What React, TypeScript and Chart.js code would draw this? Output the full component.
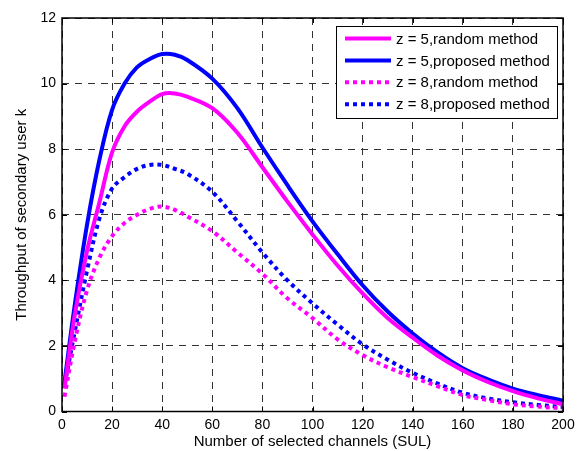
import React, { useEffect, useRef } from "react";
import { Chart, registerables } from "chart.js";

Chart.register(...registerables);

const channels = [1, 5, 10, 15, 20, 25, 30, 35, 40, 45, 50, 60, 70, 80, 90, 100, 110, 120, 130, 140, 150, 160, 170, 180, 190, 200];

const z5Random = [0.7, 2.9, 4.9, 6.4, 7.9, 8.7, 9.15, 9.45, 9.68, 9.7, 9.6, 9.25, 8.5, 7.45, 6.4, 5.4, 4.45, 3.6, 2.85, 2.25, 1.7, 1.25, 0.9, 0.62, 0.4, 0.22];
const z5Proposed = [0.9, 3.2, 5.7, 7.7, 9.2, 10.0, 10.5, 10.75, 10.9, 10.88, 10.72, 10.15, 9.25, 8.05, 6.9, 5.8, 4.8, 3.85, 3.05, 2.38, 1.8, 1.32, 0.98, 0.7, 0.5, 0.33];
const z8Random = [0.45, 2.1, 3.7, 4.7, 5.35, 5.75, 6.0, 6.18, 6.25, 6.15, 5.95, 5.5, 4.85, 4.2, 3.45, 2.85, 2.2, 1.72, 1.35, 1.05, 0.77, 0.5, 0.35, 0.22, 0.15, 0.1];
const z8Proposed = [0.8, 2.4, 4.3, 5.9, 6.8, 7.15, 7.4, 7.52, 7.52, 7.4, 7.25, 6.7, 5.8, 4.85, 4.0, 3.3, 2.65, 2.05, 1.58, 1.18, 0.85, 0.57, 0.4, 0.28, 0.2, 0.14];

const seriesLabels = ["z = 5,random method", "z = 5,proposed method", "z = 8,random method", "z = 8,proposed method"];

const xTitle = "Number of selected channels (SUL)";
const yTitle = "Throughput of secondary user k";

const FONT = "'Liberation Sans', Arial, sans-serif";

const toPoints = (ys: number[]) => channels.map((x, i) => ({ x, y: ys[i] }));

const framePlugin = {
  id: "frame",
  afterDraw(chart: any) {
    const { ctx, chartArea } = chart;
    const { left, right, top, bottom } = chartArea;
    ctx.save();
    ctx.strokeStyle = "#000";
    ctx.lineWidth = 1;
    ctx.setLineDash([]);
    const xs = chart.scales.x;
    const ys = chart.scales.y;
    const tl = 5;
    xs.ticks.forEach((t: any) => {
      const px = Math.round(xs.getPixelForValue(t.value)) + 0.5;
      ctx.beginPath();
      ctx.moveTo(px, bottom);
      ctx.lineTo(px, bottom - tl);
      ctx.moveTo(px, top);
      ctx.lineTo(px, top + tl);
      ctx.stroke();
    });
    ys.ticks.forEach((t: any) => {
      const py = Math.round(ys.getPixelForValue(t.value)) + 0.5;
      ctx.beginPath();
      ctx.moveTo(left, py);
      ctx.lineTo(left + tl, py);
      ctx.moveTo(right, py);
      ctx.lineTo(right - tl, py);
      ctx.stroke();
    });
    ctx.lineWidth = 1.5;
    ctx.strokeRect(left, top, right - left, bottom - top);

    // legend
    const bw = 221;
    const bh = 92;
    const bx = right - 6 - bw;
    const by = top + 8;
    ctx.fillStyle = "#fff";
    ctx.fillRect(bx, by, bw, bh);
    ctx.lineWidth = 1;
    ctx.strokeRect(Math.round(bx) + 0.5, Math.round(by) + 0.5, bw, bh);
    ctx.font = `15px ${FONT}`;
    ctx.textBaseline = "middle";
    ctx.textAlign = "left";
    chart.data.datasets.forEach((ds: any, i: number) => {
      const ry = by + 12.5 + i * 21.9;
      ctx.beginPath();
      ctx.strokeStyle = ds.borderColor;
      ctx.lineWidth = 4;
      ctx.lineCap = "butt";
      ctx.setLineDash(ds.borderDash || []);
      ctx.moveTo(bx + 9, ry);
      ctx.lineTo(bx + 55, ry);
      ctx.stroke();
      ctx.setLineDash([]);
      ctx.fillStyle = "#000";
      ctx.fillText(ds.label, bx + 60, ry + 1);
    });
    ctx.restore();
  },
};

export default function App() {
  const ref = useRef<HTMLCanvasElement | null>(null);
  useEffect(() => {
    document.body.style.margin = "0";
    const canvas = ref.current;
    if (!canvas) return;
    const mk = (label: string, data: number[], color: string, dash: number[]) => ({
      label,
      data: toPoints(data),
      borderColor: color,
      backgroundColor: color,
      borderWidth: 4,
      borderDash: dash,
      pointRadius: 0,
      tension: 0.35,
      fill: false,
    });
    const chart = new Chart(canvas, {
      type: "line",
      data: {
        datasets: [
          mk(seriesLabels[0], z5Random, "#ff00ff", []),
          mk(seriesLabels[1], z5Proposed, "#0000ff", []),
          mk(seriesLabels[2], z8Random, "#ff00ff", [4, 4]),
          mk(seriesLabels[3], z8Proposed, "#0000ff", [4, 4]),
        ],
      },
      options: {
        responsive: false,
        animation: false,
        layout: { padding: { left: 0, top: 18, right: 17, bottom: 0 } },
        plugins: { legend: { display: false }, tooltip: { enabled: false } },
        scales: {
          x: {
            type: "linear",
            min: 0,
            max: 200,
            afterFit: (s: any) => {
              s.height = 39.5;
            },
            ticks: { stepSize: 20, color: "#000", font: { family: FONT, size: 14 }, padding: 5, maxRotation: 0 },
            grid: { color: "#333", lineWidth: 1, drawTicks: false },
            border: { display: false, dash: [7, 6] },
            title: { display: true, text: xTitle, color: "#000", font: { family: FONT, size: 15 }, padding: { top: 0, bottom: 0 } },
          },
          y: {
            type: "linear",
            min: 0,
            max: 12,
            afterFit: (s: any) => {
              s.width = 62;
            },
            ticks: { stepSize: 2, color: "#000", font: { family: FONT, size: 14 }, padding: 6 },
            grid: { color: "#333", lineWidth: 1, drawTicks: false },
            border: { display: false, dash: [7, 6] },
            title: { display: true, text: yTitle, color: "#000", font: { family: FONT, size: 15 }, padding: { top: 12.5, bottom: 0 } },
          },
        },
      },
      plugins: [framePlugin],
    });
    return () => chart.destroy();
  }, []);
  return <canvas ref={ref} width={580} height={451} style={{ display: "block" }} />;
}
